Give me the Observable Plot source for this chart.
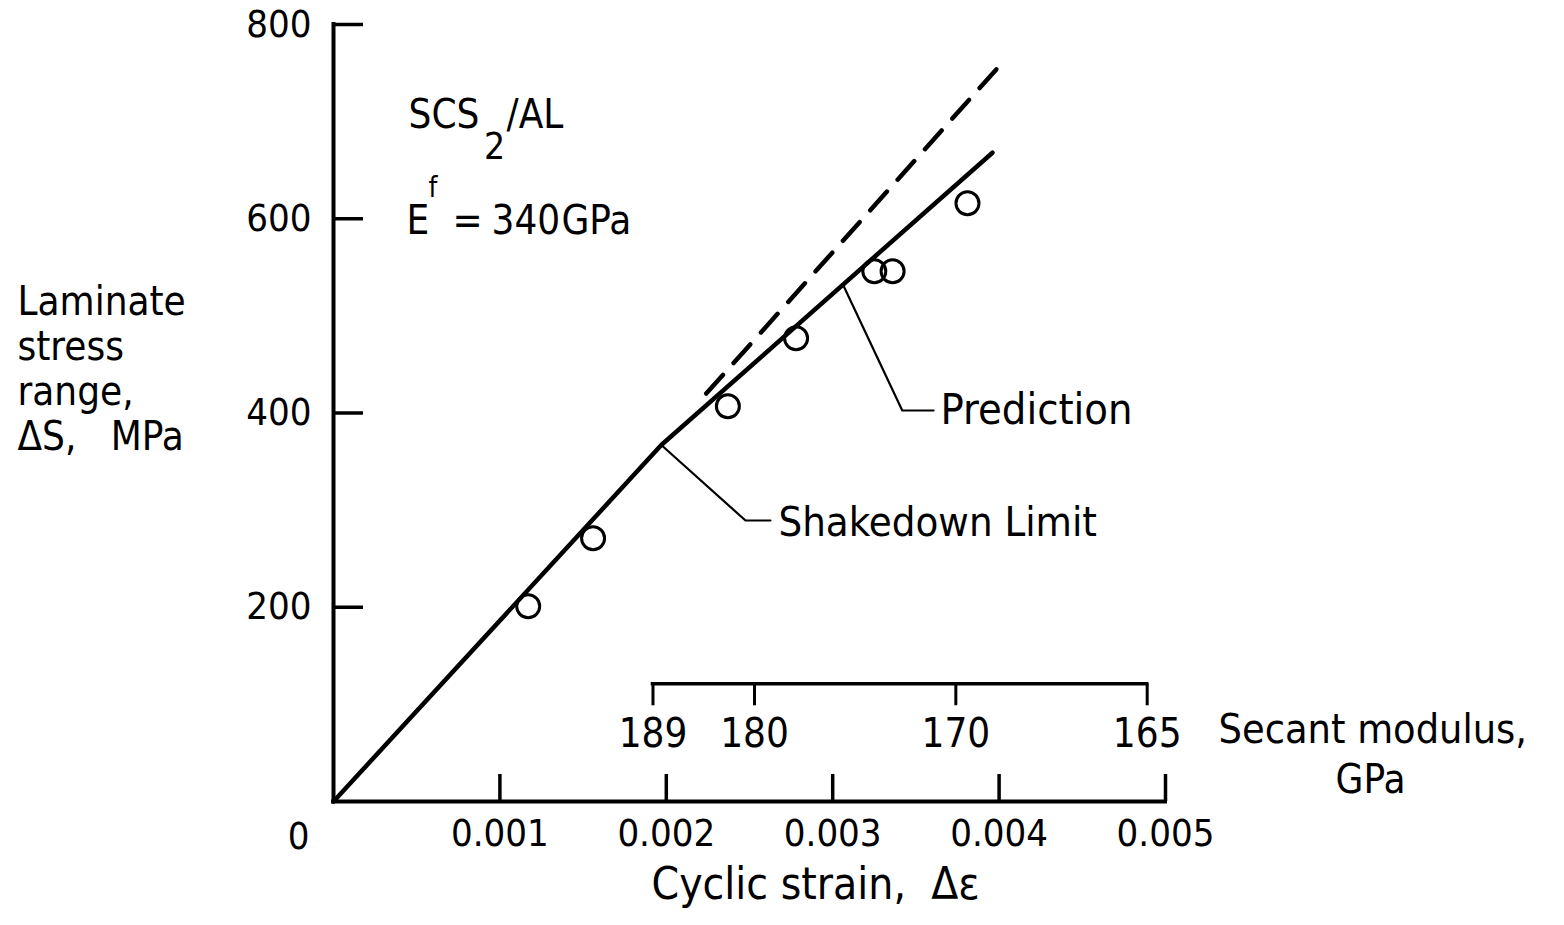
<!DOCTYPE html>
<html>
<head>
<meta charset="utf-8">
<script src="https://cdn.jsdelivr.net/npm/d3@7"></script>
<script src="https://cdn.jsdelivr.net/npm/@observablehq/plot@0.6"></script>
<style>
  html, body { margin: 0; padding: 0; background: #fff; overflow: hidden; }
  svg { display: block; }
</style>
</head>
<body>
<div id="chart"></div>
<script>
// Measured data points (cyclic strain, laminate stress range MPa)
const strainValues = [0.00117, 0.00156, 0.00237, 0.00278, 0.00325, 0.00336, 0.00381];
const stressValues = [201, 271, 407, 477, 546, 546, 616];

// Prediction (solid bilinear line)
const predStrain = [0, 0.00197, 0.00396];
const predStress = [0, 367, 668];

// Elastic extension (dashed)
const elasticStrain = [0.00224, 0.00400];
const elasticStress = [420, 757];

// Axis ticks
const xTickValues = [0.001, 0.002, 0.003, 0.004, 0.005];
const yTickValues = [200, 400, 600, 800];

// Secant modulus auxiliary scale
const secantLabels = [189, 180, 170, 165];
const secantStrain = [0.00192, 0.00253, 0.00374, 0.00489];

const points = strainValues.map((s, i) => ({strain: s, stress: stressValues[i]}));
const pred = predStrain.map((s, i) => ({strain: s, stress: predStress[i]}));
const elastic = elasticStrain.map((s, i) => ({strain: s, stress: elasticStress[i]}));
const secant = secantStrain.map((s, i) => ({strain: s, label: String(secantLabels[i])}));

const WORD = "'DejaVu Sans Condensed', 'DejaVu Sans', sans-serif";
const NUM = "'Liberation Sans Narrow', 'DejaVu Sans Condensed', sans-serif";

const shakedownLeader = [
  {strain: predStrain[1], stress: predStress[1]},
  {strain: 0.002476, stress: 289.3},
  {strain: 0.002626, stress: 289.3}
];
const predictionLeader = [
  {strain: 0.003065, stress: 531},
  {strain: 0.003418, stress: 402.6},
  {strain: 0.003606, stress: 402.6}
];
const secantAxisStress = 121.2;

const chart = Plot.plot({
  width: 1564,
  height: 925,
  marginLeft: 333,
  marginRight: 399,
  marginTop: 24,
  marginBottom: 124,
  style: {fontFamily: NUM, fontSize: "38px", color: "black", background: "white"},
  x: {domain: [0, 0.005], ticks: xTickValues, tickSize: 0, tickPadding: 18,
      tickFormat: d => d3.format(".3f")(d), label: null},
  y: {domain: [0, 800], ticks: yTickValues, tickSize: 0, tickPadding: 22, label: null},
  marks: [
    // axis lines
    Plot.ruleX([0], {stroke: "black", strokeWidth: 4, strokeLinecap: "square"}),
    Plot.ruleY([0], {stroke: "black", strokeWidth: 4, strokeLinecap: "square"}),
    // inward ticks
    Plot.ruleX(xTickValues, {x: d => d, y1: 0, y2: 0, insetTop: -27, stroke: "black", strokeWidth: 3.5}),
    Plot.ruleY(yTickValues, {y: d => d, x1: 0, x2: 0, insetRight: -30, stroke: "black", strokeWidth: 3.5}),
    // origin label
    Plot.text(["0"], {x: -0.00021, y: -48.4, lineAnchor: "bottom", fontFamily: NUM, fontSize: 38}),

    // prediction and elastic lines
    Plot.line(pred, {x: "strain", y: "stress", stroke: "black", strokeWidth: 4.5}),
    Plot.line(elastic, {x: "strain", y: "stress", stroke: "black", strokeWidth: 4.5, strokeDasharray: "25,16"}),
    // data points
    Plot.dot(points, {x: "strain", y: "stress", r: 11.5, stroke: "black", strokeWidth: 3, fill: "none"}),

    // leaders
    Plot.line(shakedownLeader, {x: "strain", y: "stress", stroke: "black", strokeWidth: 2.2}),
    Plot.line(predictionLeader, {x: "strain", y: "stress", stroke: "black", strokeWidth: 2.2}),
    Plot.text(["Shakedown Limit"], {x: 0.002674, y: 287.3, textAnchor: "start", fontFamily: WORD, fontSize: 41.5}),
    Plot.text(["Prediction"], {x: 0.003648, y: 402.6, textAnchor: "start", fontFamily: WORD, fontSize: 43}),

    // secant modulus scale
    Plot.ruleY([secantAxisStress], {x1: secantStrain[0], x2: secantStrain[secantStrain.length - 1], stroke: "black", strokeWidth: 3.5, strokeLinecap: "square"}),
    Plot.ruleX(secant, {x: "strain", y1: secantAxisStress, y2: secantAxisStress, insetBottom: -22, stroke: "black", strokeWidth: 3}),
    Plot.text(secant, {x: "strain", y: 55.6, text: "label", lineAnchor: "bottom", fontFamily: NUM, fontSize: 40}),
    Plot.text(["Secant modulus,"], {x: 0.005319, y: 60, textAnchor: "start", lineAnchor: "bottom", fontFamily: WORD, fontSize: 41}),
    Plot.text(["GPa"], {x: 0.006232, y: 8.5, lineAnchor: "bottom", fontFamily: WORD, fontSize: 40}),

    // axis titles
    Plot.text(["Cyclic strain,\u00a0\u00a0\u0394\u03b5"], {x: 0.002897, y: -100, lineAnchor: "bottom", fontFamily: WORD, fontSize: 44}),
    Plot.text(["Laminate\nstress\nrange,\n\u0394S,\u00a0\u00a0\u00a0MPa"], {x: -0.001899, y: 533.3, textAnchor: "start", lineAnchor: "top", lineHeight: 1.125, fontFamily: WORD, fontSize: 40}),

    // material annotation
    Plot.text(["SCS"], {x: 0.000451, y: 693, textAnchor: "start", lineAnchor: "bottom", fontFamily: WORD, fontSize: 40}),
    Plot.text(["2"], {x: 0.000905, y: 662, textAnchor: "start", lineAnchor: "bottom", fontFamily: WORD, fontSize: 37}),
    Plot.text(["/AL"], {x: 0.001040, y: 693, textAnchor: "start", lineAnchor: "bottom", fontFamily: WORD, fontSize: 40}),
    Plot.text(["E"], {x: 0.000439, y: 584.8, textAnchor: "start", lineAnchor: "bottom", fontFamily: WORD, fontSize: 40}),
    Plot.text(["f"], {x: 0.000571, y: 621.9, textAnchor: "start", lineAnchor: "bottom", fontFamily: WORD, fontSize: 28}),
    Plot.text(["="], {x: 0.000715, y: 584.8, textAnchor: "start", lineAnchor: "bottom", fontFamily: WORD, fontSize: 40}),
    Plot.text(["340"], {x: 0.000950, y: 584.8, textAnchor: "start", lineAnchor: "bottom", fontFamily: WORD, fontSize: 40}),
    Plot.text(["GPa"], {x: 0.001370, y: 584.8, textAnchor: "start", lineAnchor: "bottom", fontFamily: WORD, fontSize: 40})
  ]
});

document.getElementById("chart").appendChild(chart);
</script>
</body>
</html>
